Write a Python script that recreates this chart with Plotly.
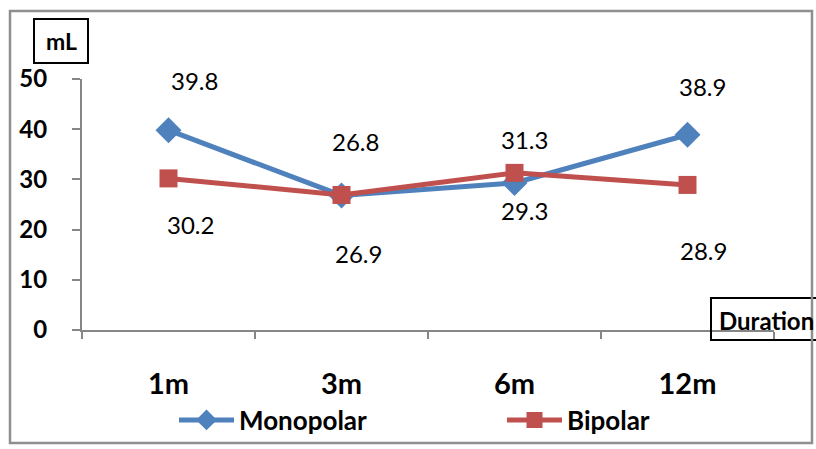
import plotly.graph_objects as go

# Follow-up durations and mean volumes (mL)
durations = ["1m", "3m", "6m", "12m"]
monopolar = [39.8, 26.8, 29.3, 38.9]
bipolar = [30.2, 26.9, 31.3, 28.9]

W, H = 816, 449
FONT = "Lato"
BLUE = "#4F81BD"
RED = "#C0504D"
AXIS = "#868686"

# plot area in pixels
x0, x1 = 82, 774
ytop, ybot = 79, 330

fig = go.Figure()
fig.add_trace(go.Scatter(
    x=durations, y=monopolar, name="Monopolar", mode="lines+markers",
    line=dict(color=BLUE, width=5),
    marker=dict(symbol="diamond", size=20, color=BLUE),
))
fig.add_trace(go.Scatter(
    x=durations, y=bipolar, name="Bipolar", mode="lines+markers",
    line=dict(color=RED, width=5),
    marker=dict(symbol="square", size=18, color=RED),
))

# value labels: pixel offsets (dx, dy) from each point
mono_off = [(26, 50), (14, 54), (10, -28), (15, 48)]
bi_off = [(22, -46), (17, -59), (10, 33), (16, -66)]
for series, offs in ((monopolar, mono_off), (bipolar, bi_off)):
    for cat, val, (dx, dy) in zip(durations, series, offs):
        fig.add_annotation(
            x=cat, y=val, text=f"{val:.1f}", showarrow=False,
            xshift=dx, yshift=dy,
            font=dict(family=FONT, size=24, color="black"),
        )

# axis title boxes
fig.add_annotation(
    xref="paper", yref="paper", x=61 / W, y=1 - 41 / H,
    xanchor="center", yanchor="middle",
    text="<b>mL</b>", showarrow=False,
    font=dict(family=FONT, size=23, color="black"),
)
fig.add_shape(type="rect", xref="paper", yref="paper",
              x0=34 / W, x1=88 / W, y0=1 - 63 / H, y1=1 - 19 / H,
              line=dict(color="black", width=2))
fig.add_annotation(
    xref="paper", yref="paper", x=717 / W, y=1 - 320 / H,
    xanchor="left", yanchor="middle",
    text="<b>Duration</b>", showarrow=False,
    font=dict(family=FONT, size=24, color="black"),
)
fig.add_shape(type="rect", xref="paper", yref="paper",
              x0=711 / W, x1=840 / W, y0=1 - 340 / H, y1=1 - 298 / H,
              line=dict(color="black", width=2))

# outer chart frame
fig.add_shape(type="rect", xref="paper", yref="paper",
              x0=10 / W, x1=812 / W, y0=1 - 443 / H, y1=1 - 11 / H,
              line=dict(color="#8f8f8f", width=2.5))

fig.update_layout(
    width=W, height=H,
    margin=dict(l=0, r=0, t=0, b=0, autoexpand=False),
    paper_bgcolor="white", plot_bgcolor="white",
    font=dict(family=FONT, color="black"),
    showlegend=True,
    legend=dict(
        orientation="h", x=174 / W, y=1 - 420 / H, xanchor="left", yanchor="middle",
        entrywidth=258, entrywidthmode="pixels", itemwidth=55,
        font=dict(family=FONT, size=26, color="black", weight="bold"),
        bgcolor="rgba(0,0,0,0)",
    ),
    xaxis=dict(
        domain=[x0 / W, x1 / W], range=[-0.5, 3.5],
        type="category", tickson="boundaries", automargin=False,
        showline=True, linecolor=AXIS, linewidth=2,
        ticks="outside", ticklen=7, tickcolor=AXIS, tickwidth=2,
        showgrid=False, zeroline=False,
        tickfont=dict(family=FONT, size=29, color="black", weight="bold"),
        ticklabelstandoff=27,
    ),
    yaxis=dict(
        domain=[1 - ybot / H, 1 - ytop / H], range=[0, 50],
        tickvals=[0, 10, 20, 30, 40, 50], automargin=False,
        showline=True, linecolor=AXIS, linewidth=2,
        ticks="outside", ticklen=8, tickcolor=AXIS, tickwidth=2,
        showgrid=False, zeroline=False,
        tickfont=dict(family=FONT, size=24, color="black", weight="bold"),
        ticklabelstandoff=20,
    ),
)

fig.write_html("out.html")
